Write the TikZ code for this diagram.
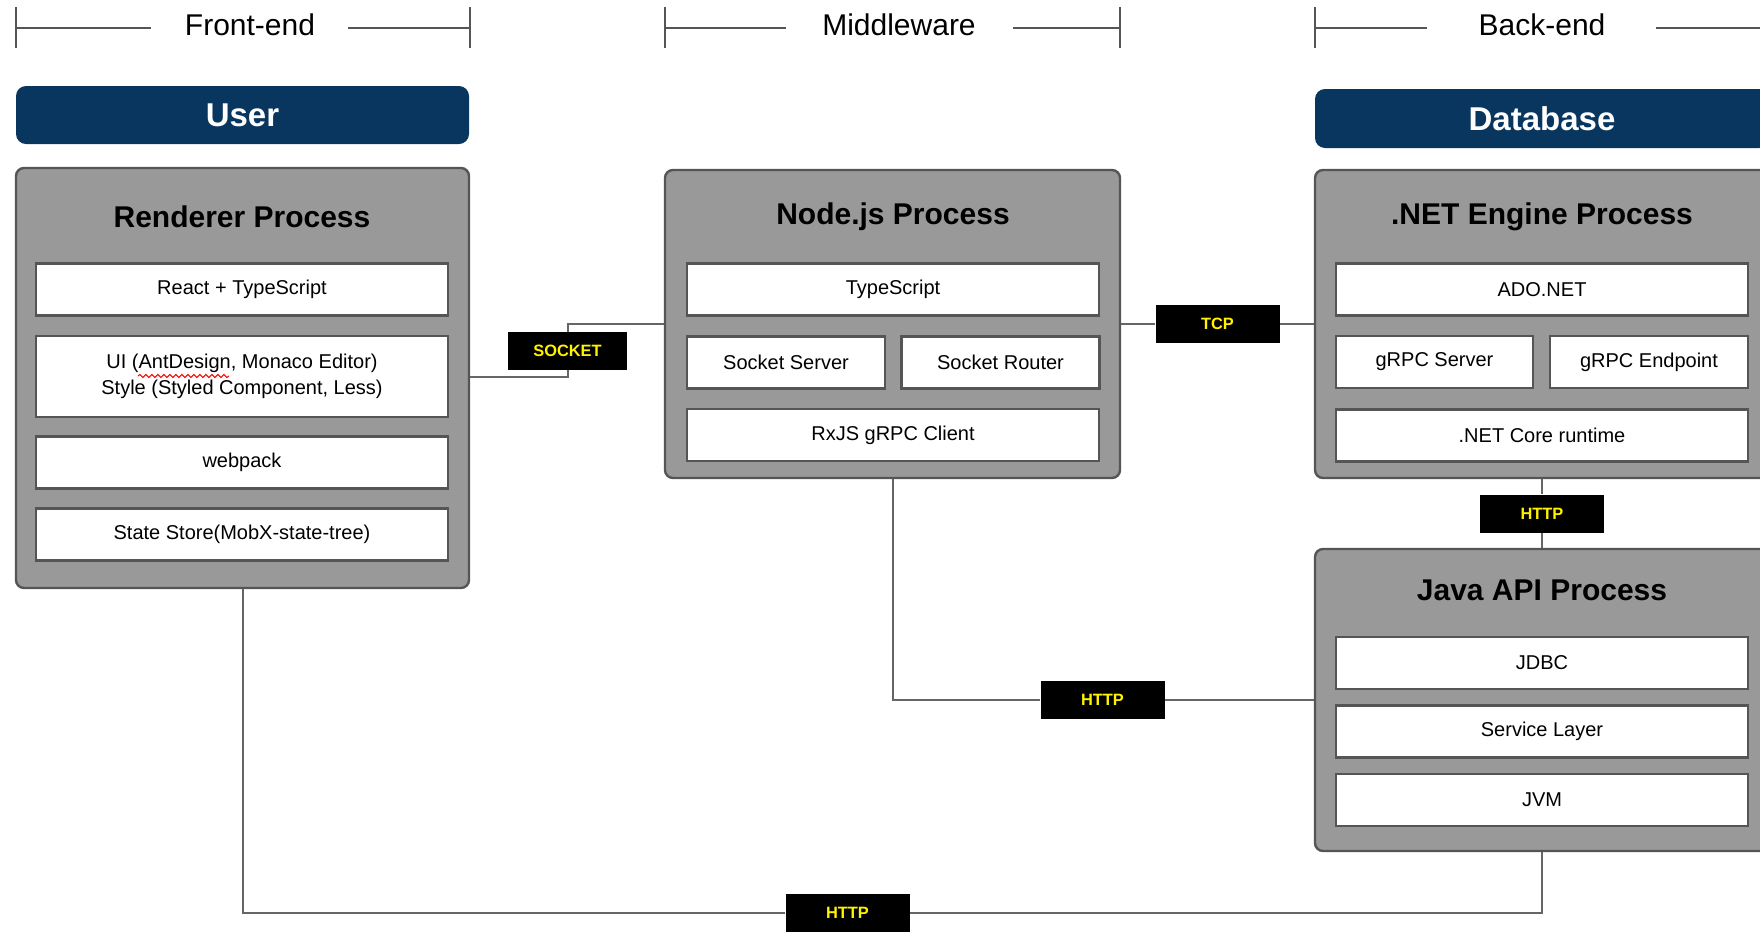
\documentclass[tikz,border=0pt]{standalone}
\usepackage{fontspec}
\setmainfont{Liberation Sans}
\usetikzlibrary{decorations.pathmorphing}

\definecolor{navy}{HTML}{08365E}
\definecolor{procgray}{HTML}{999999}
\definecolor{edgegray}{HTML}{555555}
\definecolor{linegray}{HTML}{666666}

\tikzset{
  process/.style={draw=edgegray,line width=1.2pt,fill=procgray,rounded corners=4pt,inner sep=0pt},
  banner/.style={fill=navy,rounded corners=5pt,inner sep=0pt,text=white,font=\fontsize{16.5}{20}\selectfont\bfseries},
  proctitle/.style={font=\fontsize{15}{18}\selectfont\bfseries},
  part/.style={draw=edgegray,line width=1.2pt,fill=white,inner sep=0pt,minimum height=26pt,align=center,font=\fontsize{10}{12.75}\selectfont},
  proto/.style={fill=black,text=yellow,inner sep=0pt,minimum width=62pt,minimum height=19pt,font=\fontsize{8.2}{10}\selectfont\bfseries},
  wire/.style={draw=linegray,line width=1pt},
  phase/.style={font=\fontsize{15}{18}\selectfont}
}

\begin{document}
\begin{tikzpicture}[x=0.5pt,y=-0.5pt]

\useasboundingbox (0,0) rectangle (1760,933);

% Section brackets
\foreach \l/\a/\b/\r in {16/151/348/470, 665/786/1013/1120, 1315/1427/1656/1769}{
  \draw[edgegray,line width=1pt] (\l,7)--(\l,48) (\l,28)--(\a,28) (\b,28)--(\r,28) (\r,7)--(\r,48);
}
\node[phase] (FrontEnd) at (250,25) {Front-end};
\node[phase] (Middleware) at (899,25) {Middleware};
\node[phase] (BackEnd) at (1542,25) {Back-end};

% Banners
\node[banner,minimum width=226.5pt,minimum height=29pt] (User) at (242.5,115) {User};
\node[banner,minimum width=227pt,minimum height=29.5pt] (Database) at (1542,118.5) {Database};

% Renderer process
\node[process,minimum width=226.5pt,minimum height=210pt] (Renderer) at (242.5,378) {};
\node[proctitle] (RendererTitle) at (242,217) {Renderer Process};
\node[part,minimum width=206pt] (React) at (242,289.5) {React + TypeScript};
\node[part,minimum width=206pt,minimum height=40.5pt] (UiStyle) at (242,376.5)
  {UI (AntDesign, Monaco Editor)\\Style (Styled Component, Less)};
\node[part,minimum width=206pt] (Webpack) at (242,462.5) {webpack};
\node[part,minimum width=206pt] (StateStore) at (242,534.5) {State Store(MobX-state-tree)};
\draw[red,line width=0.5pt,decorate,decoration={snake,amplitude=0.8pt,segment length=3pt}] (138,376)--(229,376);

% Node.js process
\node[process,minimum width=227.5pt,minimum height=154pt] (NodeJs) at (892.5,324) {};
\node[proctitle] (NodeJsTitle) at (893,217) {Node.js Process};
\node[part,minimum width=206pt] (TypeScript) at (893,289.5) {TypeScript};
\node[part,minimum width=99pt] (SocketServer) at (786,362.5) {Socket Server};
\node[part,minimum width=99pt] (SocketRouter) at (1000.5,362.5) {Socket Router};
\node[part,minimum width=206pt] (RxJS) at (893,435) {RxJS gRPC Client};

% .NET engine process
\node[process,minimum width=227pt,minimum height=154pt] (NetEngine) at (1542,324) {};
\node[proctitle] (NetEngineTitle) at (1542,217) {.NET Engine Process};
\node[part,minimum width=206pt] (AdoNet) at (1542,289.5) {ADO.NET};
\node[part,minimum width=98.5pt] (GrpcServer) at (1434.5,362) {gRPC Server};
\node[part,minimum width=99pt] (GrpcEndpoint) at (1649,362) {gRPC Endpoint};
\node[part,minimum width=206pt] (NetCore) at (1542,435.5) {.NET Core runtime};

% Java API process
\node[process,minimum width=227pt,minimum height=151pt] (JavaApi) at (1542,700) {};
\node[proctitle] (JavaApiTitle) at (1542,590) {Java API Process};
\node[part,minimum width=206pt] (Jdbc) at (1542,663) {JDBC};
\node[part,minimum width=206pt] (ServiceLayer) at (1542,731.5) {Service Layer};
\node[part,minimum width=206pt] (Jvm) at (1542,800) {JVM};

% Protocol labels
\node[proto,minimum width=59.5pt] (Socket) at (567.5,351) {SOCKET};
\node[proto] (Tcp) at (1217.5,324) {TCP};
\node[proto] (HttpNetJava) at (1542,513.5) {HTTP};
\node[proto] (HttpMiddle) at (1102.5,700) {HTTP};
\node[proto] (HttpBottom) at (847.5,913) {HTTP};

% Connectors
\draw[wire] (Renderer.east |- UiStyle.east) -| (Socket);
\draw[wire] (Socket) |- (NodeJs.west);
\draw[wire] (NodeJs.east) -- (Tcp) -- (NetEngine.west);
\draw[wire] (NetEngine.south) -- (HttpNetJava) -- (JavaApi.north);
\draw[wire] (NodeJs.south) |- (HttpMiddle) -- (JavaApi.west);
\draw[wire] (Renderer.south) |- (HttpBottom) -| (JavaApi.south);

\end{tikzpicture}
\end{document}
